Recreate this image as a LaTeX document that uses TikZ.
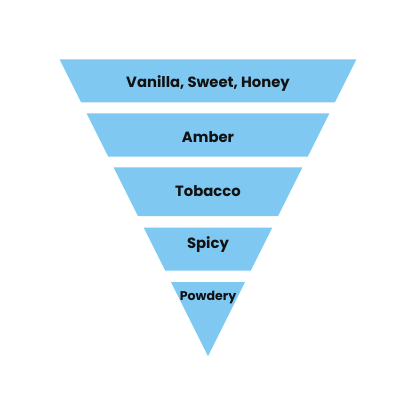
\documentclass[tikz,border=0pt]{standalone}
\usepackage{fontspec}
\setmainfont{Poppins}[BoldFont={* Bold}]
\definecolor{bandblue}{HTML}{7EC8F2}
\definecolor{labelink}{HTML}{111111}
\tikzset{
  band/.style={fill=bandblue, draw=none},
  bandlabel/.style={text=labelink, font=\bfseries\fontsize{14.8}{16}\selectfont, inner sep=0pt}
}
\begin{document}
\begin{tikzpicture}[x=1pt,y=-1pt]
\useasboundingbox (0,0) rectangle (416,416);
\fill[white] (0,0) rectangle (416,416);
\foreach \ytop/\ybot in {59.3/102.3,113.3/156.7,167.3/216,227.7/270.7,282/356}{
  \fill[band] ({208-0.5*(356-\ytop)},\ytop) -- ({208+0.5*(356-\ytop)},\ytop)
    -- ({208+0.5*(356-\ybot)},\ybot) -- ({208-0.5*(356-\ybot)},\ybot) -- cycle;
}
\node[bandlabel] (vanilla) at (208,83.3) {Vanilla, Sweet, Honey};
\node[bandlabel] (amber) at (208,137.3) {Amber};
\node[bandlabel] (tobacco) at (208,190.7) {Tobacco};
\node[bandlabel] (spicy) at (208,245) {Spicy};
\node[bandlabel, font=\bfseries\fontsize{12.6}{14}\selectfont] (powdery) at (208,297.7) {Powdery};
\end{tikzpicture}
\end{document}
